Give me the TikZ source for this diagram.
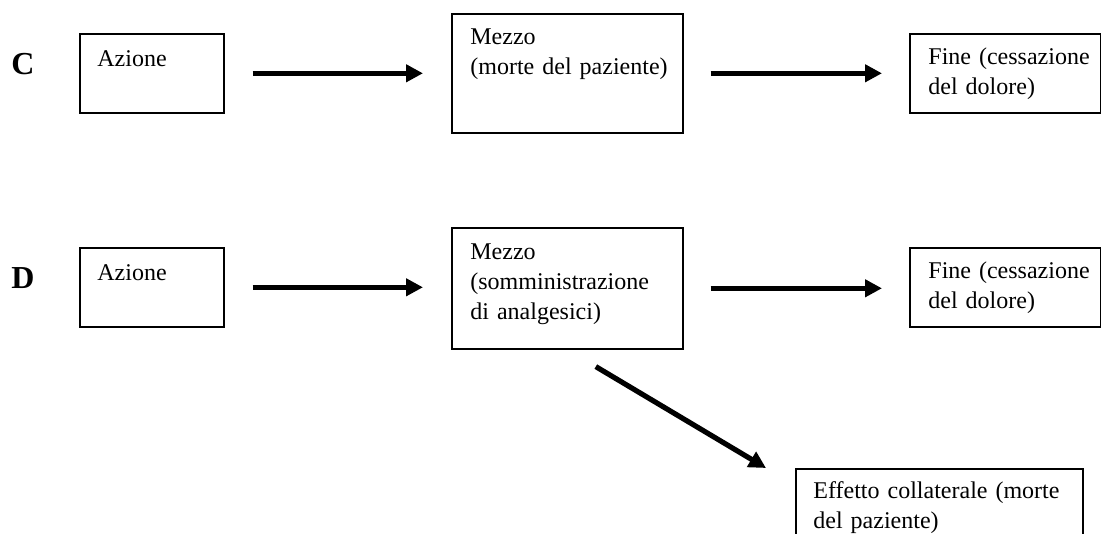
\documentclass[tikz,border=0pt]{standalone}
\usepackage{fontspec}
\setmainfont{Liberation Serif}
\usetikzlibrary{arrows.meta, positioning, calc}

\tikzset{
    box/.style={draw, line width=0.8pt, anchor=north west, inner sep=0pt},
    txt/.style={anchor=base west, inner sep=0pt, align=left, text width=150pt,
        font=\fontsize{12}{15}\selectfont},
    lbl/.style={anchor=base, inner sep=0pt, font=\fontsize{16}{16}\selectfont\bfseries},
    arr/.style={-{Triangle[length=8.5pt,width=8.5pt]}, line width=2.6pt},
}

\begin{document}
\begin{tikzpicture}[x=0.5pt, y=-0.5pt]
    \clip (0,0) rectangle (1101,534);
    % caso C
    \node[lbl] (lC) at (23,75) {C};
    \node[box, minimum width=72pt, minimum height=39.5pt] (azC) at (79,33) {};
    \node[box, minimum width=115.5pt, minimum height=59.5pt] (mzC) at (451,13) {};
    \node[box, minimum width=95.5pt, minimum height=39.5pt] (fnC) at (909,33) {};
    \node[txt] (azCt) at ($(azC.north west)+(18,34)$) {Azione};
    \node[txt] (mzCt) at ($(mzC.north west)+(19,32)$) {Mezzo\\(morte del paziente)};
    \node[txt] (fnCt) at ($(fnC.north west)+(19,32)$) {Fine (cessazione\\del dolore)};
    \draw[arr, shorten <=14pt, shorten >=14pt] (azC.east) -- (mzC.west);
    \draw[arr, shorten <=13.5pt, shorten >=13.5pt] (mzC.east) -- (fnC.west);
    % caso D
    \node[lbl] (lD) at (23,288) {D};
    \node[box, minimum width=72pt, minimum height=39.5pt] (azD) at (79,247) {};
    \node[box, minimum width=115.5pt, minimum height=60.5pt] (mzD) at (451,227) {};
    \node[box, minimum width=95.5pt, minimum height=39.5pt] (fnD) at (909,247) {};
    \node[box, minimum width=143.5pt, minimum height=40pt] (fx) at (795,468) {};
    \node[txt] (azDt) at ($(azD.north west)+(18,33)$) {Azione};
    \node[txt] (mzDt) at ($(mzD.north west)+(19,32)$) {Mezzo\\(somministrazione\\di analgesici)};
    \node[txt] (fnDt) at ($(fnD.north west)+(19,31)$) {Fine (cessazione\\del dolore)};
    \node[txt] (fxt) at ($(fx.north west)+(18,30)$) {Effetto collaterale (morte\\del paziente)};
    \draw[arr, shorten <=14pt, shorten >=14pt] (azD.east) -- (azD.east -| mzD.west);
    \draw[arr, shorten <=13.5pt, shorten >=13.5pt] (mzD.east) -- (mzD.east -| fnD.west);
    \draw[arr] ($(mzD.south)+(28.5,17)$) -- ($(fx.north west)+(-29,0)$);
\end{tikzpicture}
\end{document}
